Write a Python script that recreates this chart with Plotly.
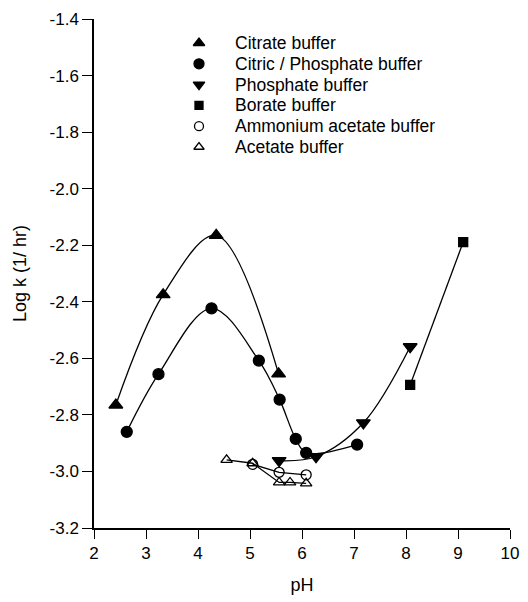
import plotly.graph_objects as go

# Citrate buffer
citrate_ph = [2.42, 3.33, 4.35, 5.55]
citrate_logk = [-2.765, -2.375, -2.165, -2.655]
# Citric / Phosphate buffer
citphos_ph = [2.63, 3.24, 4.26, 5.17, 5.57, 5.88, 6.08, 7.06]
citphos_logk = [-2.86, -2.656, -2.423, -2.608, -2.746, -2.885, -2.934, -2.905]
# Phosphate buffer
phos_ph = [5.56, 6.27, 7.18, 8.08]
phos_logk = [-2.962, -2.948, -2.828, -2.559]
# Borate buffer
borate_ph = [8.08, 9.1]
borate_logk = [-2.694, -2.189]
# Ammonium acetate buffer
amac_ph = [5.05, 5.56, 6.08]
amac_logk = [-2.975, -3.003, -3.012]
# Acetate buffer
acet_ph = [4.55, 5.05, 5.56, 5.77, 6.08]
acet_logk = [-2.959, -2.971, -3.039, -3.039, -3.042]

x_ticks = [2, 3, 4, 5, 6, 7, 8, 9, 10]
y_ticks = [-1.4, -1.6, -1.8, -2.0, -2.2, -2.4, -2.6, -2.8, -3.0, -3.2]

FONT = "Liberation Sans, Arial, sans-serif"
fig = go.Figure()

series = [
    ("Citrate buffer", citrate_ph, citrate_logk, "triangle-up", 12, "spline", 10),
    ("Citric / Phosphate buffer", citphos_ph, citphos_logk, "circle", 11, "spline", 10),
    ("Phosphate buffer", phos_ph, phos_logk, "triangle-down", 12, "spline", 10),
    ("Borate buffer", borate_ph, borate_logk, "square", 9, "linear", 8),
    ("Ammonium acetate buffer", amac_ph, amac_logk, "circle-open", 10, "linear", 9),
    ("Acetate buffer", acet_ph, acet_logk, "triangle-up-open", 10, "linear", 9),
]

for name, xs, ys, sym, size, shape, lsize in series:
    fig.add_trace(go.Scatter(
        x=xs, y=ys, mode="lines+markers", name=name, showlegend=False,
        line=dict(color="black", width=1.3, shape=shape),
        marker=dict(symbol=sym, size=size, color="black",
                    line=dict(color="black", width=1.3)),
    ))

# Legend drawn on a hidden overlay axis (plot-area relative coordinates 0..1)
leg_top = 1 - (43 - 19) / 509.0
leg_step = 20.8 / 509.0
leg_x_marker = (199 - 94) / 416.0
leg_x_text = (233 - 94) / 416.0
for i, (name, xs, ys, sym, size, shape, lsize) in enumerate(series):
    yy = leg_top - i * leg_step
    fig.add_trace(go.Scatter(
        x=[leg_x_marker], y=[yy], mode="markers", showlegend=False,
        xaxis="x2", yaxis="y2", hoverinfo="skip",
        marker=dict(symbol=sym, size=lsize, color="black",
                    line=dict(color="black", width=1.3)),
    ))
    fig.add_annotation(x=leg_x_text, y=yy, xref="x2", yref="y2", text=name,
                       showarrow=False, xanchor="left", yanchor="middle",
                       font=dict(size=17.5, family=FONT, color="black"))

# page body has an 8px margin, so offset margins accordingly
fig.update_layout(
    width=528, height=602,
    margin=dict(l=86, r=26, t=11, b=82, autoexpand=False),
    plot_bgcolor="white", paper_bgcolor="white",
    font=dict(family=FONT, size=17, color="black"),
    showlegend=False,
    xaxis=dict(range=[2, 10], tickvals=x_ticks, ticktext=[str(v) for v in x_ticks],
               showgrid=False, zeroline=False, showline=True, linecolor="black",
               linewidth=1.5, ticks="outside", ticklen=9, tickwidth=1.3,
               tickcolor="black", automargin=False,
               title=dict(text="pH", font=dict(size=18), standoff=16)),
    yaxis=dict(range=[-3.2, -1.4], tickvals=y_ticks,
               ticktext=[f"{v:.1f}" for v in y_ticks],
               showgrid=False, zeroline=False, showline=True, linecolor="black",
               linewidth=1.5, ticks="outside", ticklen=10, tickwidth=1.3,
               tickcolor="black", automargin=False,
               title=dict(text="Log k (1/ hr)", font=dict(size=18), standoff=18)),
    xaxis2=dict(range=[0, 1], overlaying="x", visible=False, fixedrange=True),
    yaxis2=dict(range=[0, 1], overlaying="y", visible=False, fixedrange=True),
)

fig.write_html("out.html")
